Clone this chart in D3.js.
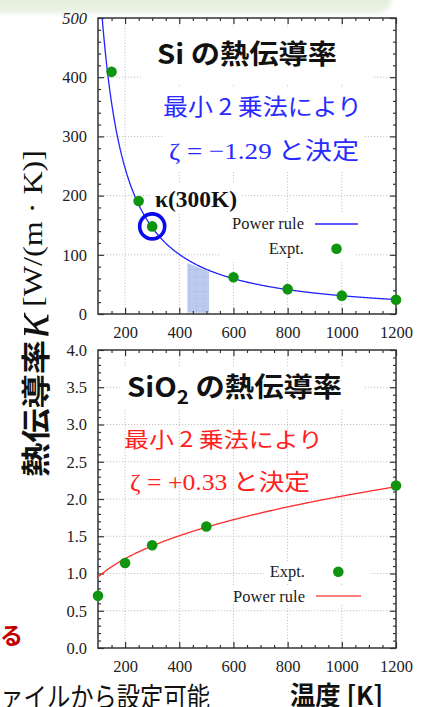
<!DOCTYPE html>
<html><head><meta charset="utf-8">
<script src="https://cdn.jsdelivr.net/npm/d3@7"></script>
<style>
html,body{margin:0;padding:0;background:#fff;}
svg{display:block;}
</style></head><body>
<svg id="chart" width="427" height="707"></svg>
<script>
// Si: measured thermal conductivity [W/(m K)] against temperature [K]
const siTemps = [150, 250, 300, 600, 800, 1000, 1200];
const siKappa = [409, 191, 148, 62, 42, 31, 24];
const siZeta = -1.29;          // fitted exponent
const siKappa300Fit = 146;     // fitted prefactor at 300 K

// SiO2: measured thermal conductivity [W/(m K)] against temperature [K]
const sio2Temps = [100, 200, 300, 500, 1200];
const sio2Kappa = [0.70, 1.14, 1.38, 1.63, 2.18];
const sio2Zeta = 0.33;
const sio2Kappa300Fit = 1.37;

// axis ticks
const tempTicks = [200, 400, 600, 800, 1000, 1200];
const tempMinor = [150, 250, 300, 350, 450, 500, 550, 650, 700, 750, 850, 900, 950, 1050, 1100, 1150];
const siTicks = [0, 100, 200, 300, 400, 500];
const siMinor = [20,40,60,80,120,140,160,180,220,240,260,280,320,340,360,380,420,440,460,480];
const sio2Ticks = [0, 0.5, 1.0, 1.5, 2.0, 2.5, 3.0, 3.5, 4.0];
const sio2Minor = [0.1,0.2,0.3,0.4,0.6,0.7,0.8,0.9,1.1,1.2,1.3,1.4,1.6,1.7,1.8,1.9,2.1,2.2,2.3,2.4,2.6,2.7,2.8,2.9,3.1,3.2,3.3,3.4,3.6,3.7,3.8,3.9];

// highlighted temperature window on the Si panel (T, kappa corners)
const siBand = [[430, 86], [510, 72], [510, 2], [430, 2]];

const svg = d3.select("#chart");
const serif = "'Liberation Serif','Times New Roman',serif";
const sans = "'Noto Sans CJK JP','Noto Sans',sans-serif";
const green = "#0f9410";

const defs = svg.append("defs");
// soft header band
const hg = defs.append("linearGradient").attr("id", "hdr").attr("x1", 0).attr("y1", 0).attr("x2", 0).attr("y2", 1);
hg.append("stop").attr("offset", "0%").attr("stop-color", "#cfe0bf");
hg.append("stop").attr("offset", "100%").attr("stop-color", "#eef4e8");
defs.append("filter").attr("id", "soft").attr("x", "-10%").attr("y", "-50%").attr("width", "120%").attr("height", "200%")
  .append("feGaussianBlur").attr("stdDeviation", 2.2);
// grid pattern for the band
const pat = defs.append("pattern").attr("id", "cells").attr("patternUnits", "userSpaceOnUse")
  .attr("width", 7.3).attr("height", 7.3);
pat.append("rect").attr("width", 7.3).attr("height", 7.3).attr("fill", "#bdcbef");
pat.append("path").attr("d", "M7.3 0V7.3M0 7.3H7.3").attr("stroke", "#a2b4e2").attr("stroke-width", 0.7);

svg.append("rect").attr("x", -30).attr("y", -30).attr("width", 422).attr("height", 44).attr("rx", 16)
  .attr("fill", "url(#hdr)").attr("filter", "url(#soft)");

const x = d3.scaleLinear().domain([100, 1200]).range([98, 396]);

function panel(opts) {
  const y = opts.y;
  const [y0, y1] = y.range();
  const [x0, x1] = x.range();
  const g = svg.append("g");

  // dotted grid
  const grid = g.append("g").attr("stroke", "#c4c4c4").attr("stroke-width", 1).attr("stroke-dasharray", "1.2,1.8");
  tempTicks.filter(t => t < 1200).forEach(t =>
    grid.append("line").attr("x1", x(t)).attr("x2", x(t)).attr("y1", y0).attr("y2", y1));
  opts.ticks.slice(1, -1).forEach(v =>
    grid.append("line").attr("x1", x0).attr("x2", x1).attr("y1", y(v)).attr("y2", y(v)));

  // opaque text boxes over the grid
  opts.boxes.forEach(b => g.append("rect").attr("x", b[0]).attr("y", b[1]).attr("width", b[2]).attr("height", b[3]).attr("fill", "#fff"));

  if (opts.extra) opts.extra(g, y);

  // axes: labelled bottom/left, mirrored top/right, all ticks inward
  const axisStyle = s => {
    s.select(".domain").remove();
    s.selectAll("line").attr("stroke", "#333").attr("stroke-width", 1.2);
    s.selectAll("text").attr("font-family", serif).attr("font-size", 16.5).attr("fill", "#222");
  };
  g.append("g").attr("transform", `translate(0,${y0})`)
    .call(d3.axisBottom(x).tickValues(tempTicks).tickSize(-6).tickPadding(12.5).tickFormat(d3.format("d"))).call(axisStyle);
  g.append("g").attr("transform", `translate(0,${y0})`)
    .call(d3.axisBottom(x).tickValues(tempMinor).tickSize(-3).tickFormat("")).call(axisStyle);
  g.append("g").attr("transform", `translate(0,${y1})`)
    .call(d3.axisTop(x).tickValues(tempTicks).tickSize(-6).tickFormat("")).call(axisStyle);
  g.append("g").attr("transform", `translate(0,${y1})`)
    .call(d3.axisTop(x).tickValues(tempMinor).tickSize(-3).tickFormat("")).call(axisStyle);
  const left = g.append("g").attr("transform", `translate(${x0},0)`)
    .call(d3.axisLeft(y).tickValues(opts.ticks).tickSize(-6).tickPadding(11).tickFormat(opts.fmt)).call(axisStyle);
  if (opts.topLabelItalic) left.selectAll("text").filter(d => d === opts.ticks[opts.ticks.length - 1]).attr("font-style", "italic");
  g.append("g").attr("transform", `translate(${x0},0)`)
    .call(d3.axisLeft(y).tickValues(opts.minor).tickSize(-3).tickFormat("")).call(axisStyle);
  g.append("g").attr("transform", `translate(${x1},0)`)
    .call(d3.axisRight(y).tickValues(opts.ticks).tickSize(-6).tickFormat("")).call(axisStyle);
  g.append("g").attr("transform", `translate(${x1},0)`)
    .call(d3.axisRight(y).tickValues(opts.minor).tickSize(-3).tickFormat("")).call(axisStyle);

  // frame
  g.append("rect").attr("x", x0).attr("y", y1).attr("width", x1 - x0).attr("height", y0 - y1)
    .attr("fill", "none").attr("stroke", "#333").attr("stroke-width", 1.5);

  // power-law fit  kappa = k300 * (T/300)^zeta
  const clipId = "clip" + opts.id;
  defs.append("clipPath").attr("id", clipId).append("rect")
    .attr("x", x0).attr("y", y1).attr("width", x1 - x0).attr("height", y0 - y1);
  const temps = d3.range(100, 1201, 2);
  const line = d3.line().x(t => x(t)).y(t => y(opts.k300 * Math.pow(t / 300, opts.zeta)));
  g.append("path").datum(temps).attr("d", line).attr("fill", "none")
    .attr("stroke", opts.lineColor).attr("stroke-width", 1.3).attr("clip-path", `url(#${clipId})`);

  // measured points
  g.append("g").selectAll("circle").data(opts.temps.map((t, i) => [t, opts.vals[i]])).join("circle")
    .attr("cx", d => x(d[0])).attr("cy", d => y(d[1])).attr("r", 5.3).attr("fill", green);
  return g;
}

// ---------- Si panel ----------
const ySi = d3.scaleLinear().domain([0, 500]).range([314, 18]);
const gSi = panel({
  id: "si", y: ySi, ticks: siTicks, minor: siMinor, fmt: d3.format("d"), topLabelItalic: true,
  temps: siTemps, vals: siKappa, k300: siKappa300Fit, zeta: siZeta, lineColor: "#2323ff",
  boxes: [[141, 28, 232, 56], [163, 88, 200, 84], [150, 184, 92, 28], [220, 212, 134, 50]],
  extra: (g, y) => {
    g.append("path").attr("d", d3.line().x(d => x(d[0])).y(d => y(d[1]))(siBand) + "Z").attr("fill", "url(#cells)");
  }
});
// κ(300K) marker
gSi.append("circle").attr("cx", x(300)).attr("cy", ySi(siKappa[2])).attr("r", 12.5)
  .attr("fill", "none").attr("stroke", "#0a0aee").attr("stroke-width", 3.6);
gSi.append("text").attr("x", 155).attr("y", 207).attr("font-family", serif).attr("font-size", 23)
  .attr("font-weight", 700).attr("fill", "#111").attr("textLength", 82).attr("lengthAdjust", "spacingAndGlyphs")
  .text("κ(300K)");

gSi.append("text").attr("x", 157).attr("y", 64).attr("font-family", sans).attr("font-weight", 700)
  .attr("font-size", 27).attr("fill", "#111").attr("textLength", 180).attr("lengthAdjust", "spacingAndGlyphs")
  .text("Si の熱伝導率");
gSi.append("text").attr("x", 163).attr("y", 115).attr("font-family", sans).attr("font-size", 23)
  .attr("fill", "#2a2aff").attr("textLength", 199).attr("lengthAdjust", "spacingAndGlyphs")
  .text("最小 2 乗法により");
{
  const t = gSi.append("text").attr("x", 169).attr("y", 159).attr("font-size", 24).attr("fill", "#2a2aff")
    .attr("textLength", 190).attr("lengthAdjust", "spacingAndGlyphs");
  t.append("tspan").attr("font-family", serif).text("ζ = ");
  t.append("tspan").attr("font-family", serif).text("−" + Math.abs(siZeta).toFixed(2));
  t.append("tspan").attr("font-family", sans).text(" と決定");
}
// Si legend
gSi.append("text").attr("x", 304).attr("y", 229).attr("text-anchor", "end").attr("font-family", serif)
  .attr("font-size", 16.5).attr("fill", "#222").text("Power rule");
gSi.append("line").attr("x1", 315).attr("x2", 358).attr("y1", 224).attr("y2", 224).attr("stroke", "#2323ff").attr("stroke-width", 1.3);
gSi.append("text").attr("x", 304).attr("y", 254).attr("text-anchor", "end").attr("font-family", serif)
  .attr("font-size", 16.5).attr("fill", "#222").text("Expt.");
gSi.append("circle").attr("cx", 336.5).attr("cy", 248.7).attr("r", 5.3).attr("fill", green);

// ---------- SiO2 panel ----------
const ySio2 = d3.scaleLinear().domain([0, 4]).range([648, 350]);
const gSio2 = panel({
  id: "sio2", y: ySio2, ticks: sio2Ticks, minor: sio2Minor, fmt: d3.format(".1f"),
  temps: sio2Temps, vals: sio2Kappa, k300: sio2Kappa300Fit, zeta: sio2Zeta, lineColor: "#ff2a2a",
  boxes: [[120, 366, 243, 44], [266, 562, 104, 20], [228, 585, 142, 20]]
});
{
  const t = gSio2.append("text").attr("x", 127).attr("y", 397).attr("font-family", sans).attr("font-weight", 700)
    .attr("font-size", 27).attr("fill", "#111").attr("textLength", 215).attr("lengthAdjust", "spacingAndGlyphs");
  t.append("tspan").text("SiO");
  t.append("tspan").attr("font-size", 19).attr("dy", 7).text("2");
  t.append("tspan").attr("dy", -7).text(" の熱伝導率");
}
gSio2.append("text").attr("x", 124).attr("y", 447).attr("font-family", sans).attr("font-size", 21)
  .attr("fill", "#ff2020").attr("textLength", 199).attr("lengthAdjust", "spacingAndGlyphs")
  .text("最小 2 乗法により");
{
  const t = gSio2.append("text").attr("x", 130).attr("y", 490).attr("font-size", 23).attr("fill", "#ff2020")
    .attr("textLength", 180).attr("lengthAdjust", "spacingAndGlyphs");
  t.append("tspan").attr("font-family", serif).text("ζ = +" + sio2Zeta.toFixed(2));
  t.append("tspan").attr("font-family", sans).text(" と決定");
}
gSio2.append("text").attr("x", 305).attr("y", 577).attr("text-anchor", "end").attr("font-family", serif)
  .attr("font-size", 16.5).attr("fill", "#222").text("Expt.");
gSio2.append("circle").attr("cx", 338.3).attr("cy", 571.7).attr("r", 5.3).attr("fill", green);
gSio2.append("text").attr("x", 305).attr("y", 601.7).attr("text-anchor", "end").attr("font-family", serif)
  .attr("font-size", 16.5).attr("fill", "#222").text("Power rule");
gSio2.append("line").attr("x1", 316).attr("x2", 361).attr("y1", 596).attr("y2", 596).attr("stroke", "#ff5555").attr("stroke-width", 1.5);

// ---------- shared axis titles ----------
const yt = svg.append("g").attr("transform", "rotate(-90)");
yt.append("text").attr("x", -477).attr("y", 47).attr("font-family", sans).attr("font-weight", 700)
  .attr("font-size", 29).attr("fill", "#111").attr("textLength", 137).attr("lengthAdjust", "spacingAndGlyphs")
  .text("熱伝導率");
yt.append("text").attr("x", -338).attr("y", 48).attr("font-family", serif).attr("font-style", "italic")
  .attr("font-size", 52).attr("fill", "#111").text("κ");
yt.append("text").attr("x", -307).attr("y", 42).attr("font-family", serif)
  .attr("font-size", 28).attr("fill", "#111").attr("textLength", 157).attr("lengthAdjust", "spacingAndGlyphs")
  .text("[W/(m · K)]");

svg.append("text").attr("x", 290).attr("y", 705).attr("font-family", sans).attr("font-weight", 700)
  .attr("font-size", 26).attr("fill", "#111").attr("textLength", 93).attr("lengthAdjust", "spacingAndGlyphs")
  .text("温度 [K]");

// fragments of surrounding slide text
svg.append("text").attr("x", 23).attr("y", 644).attr("text-anchor", "end").attr("font-family", sans)
  .attr("font-weight", 700).attr("font-size", 23).attr("fill", "#c00000").text("になる");
svg.append("text").attr("x", 210).attr("y", 707).attr("text-anchor", "end").attr("font-family", sans)
  .attr("font-size", 27).attr("fill", "#111").attr("textLength", 233).attr("lengthAdjust", "spacingAndGlyphs")
  .text("ファイルから設定可能");
</script>
</body></html>
